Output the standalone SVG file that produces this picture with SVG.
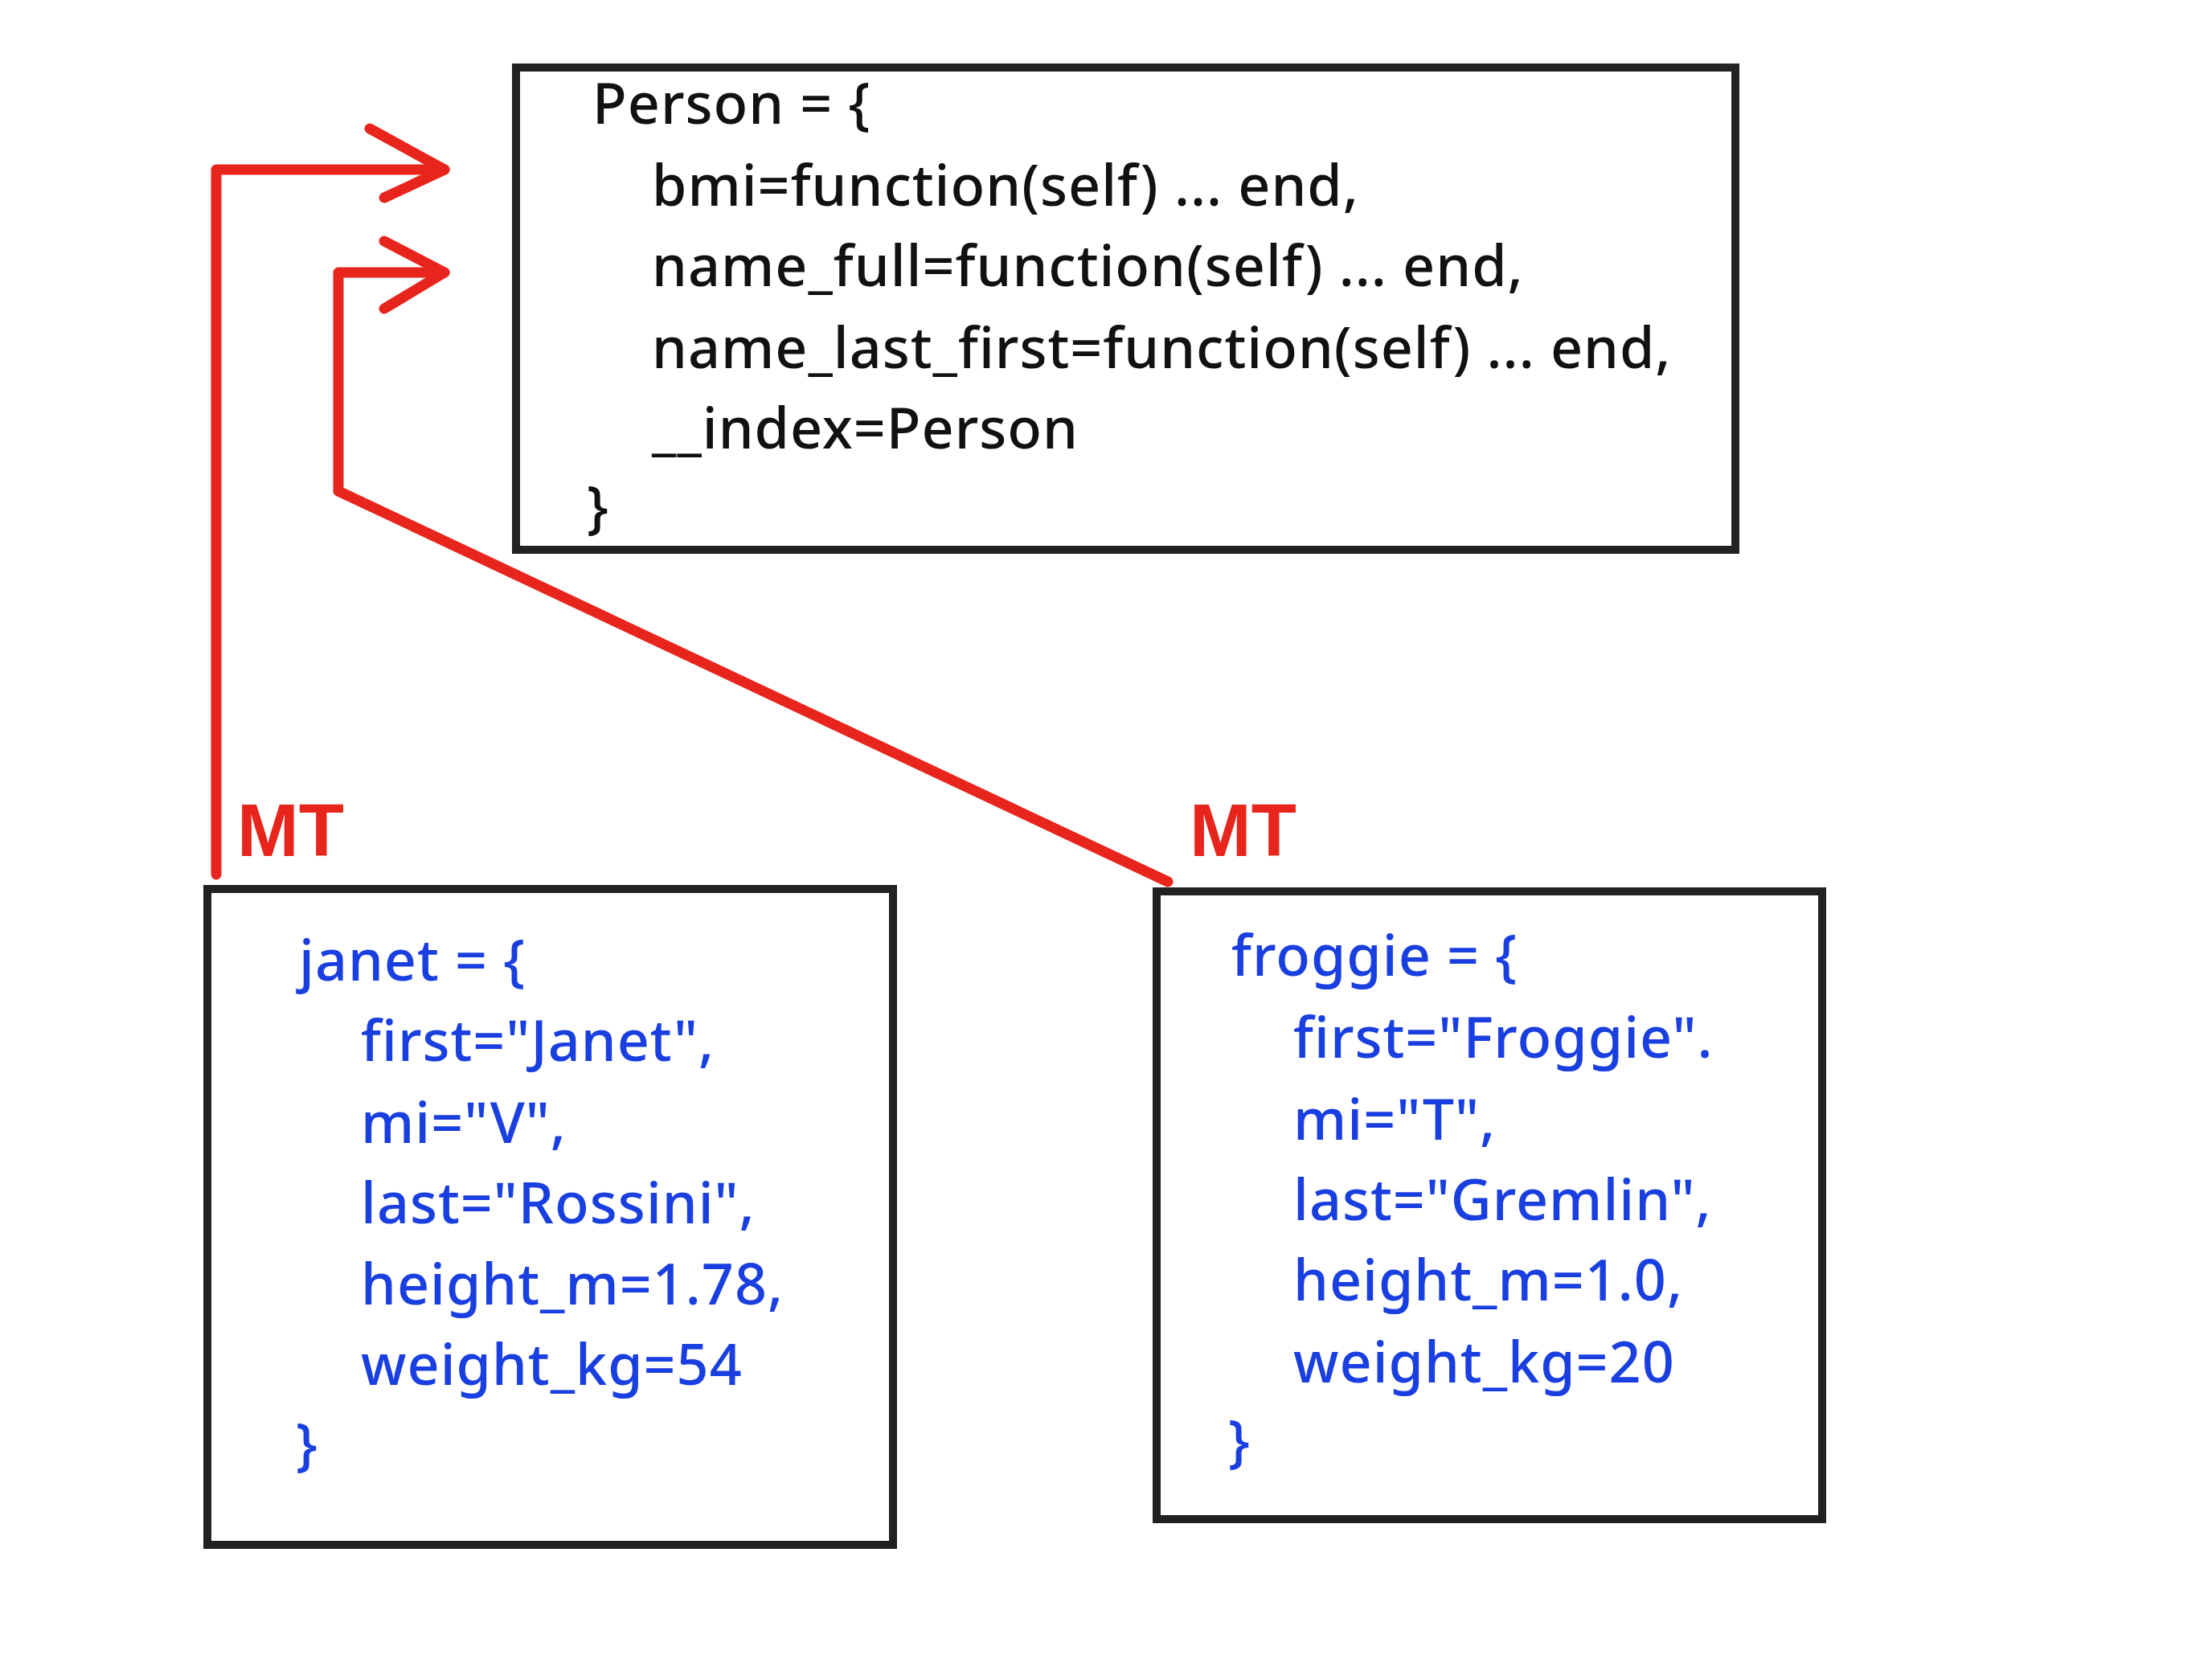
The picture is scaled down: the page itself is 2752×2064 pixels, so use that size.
<svg xmlns="http://www.w3.org/2000/svg" width="2752" height="2064" viewBox="0 0 2752 2064">
<style>
.box{fill:none;stroke:#222;stroke-width:10;stroke-linecap:round}
.t{font-family:"Noto Sans",sans-serif;font-size:70px;font-weight:500;letter-spacing:1px}
.k{fill:#111}
.b{fill:#1a3fe0}
.red{fill:none;stroke:#e8251c;stroke-width:13;stroke-linecap:round;stroke-linejoin:round}
.mt{font-family:"Liberation Sans",sans-serif;font-weight:bold;font-size:92px;fill:#e8251c}
</style>
<rect width="2752" height="2064" fill="#fff"/>
<g id="person">
<rect class="box" x="642" y="84" width="1517" height="600"/>
<text class="t k" x="737" y="154">Person = {</text>
<text class="t k" x="811" y="256">bmi=function(self) ... end,</text>
<text class="t k" x="811" y="356">name_full=function(self) ... end,</text>
<text class="t k" x="811" y="458">name_last_first=function(self) ... end,</text>
<text class="t k" x="811" y="558">__index=Person</text>
<text class="t k" x="730" y="656">}</text>
</g>
<g id="janet">
<rect class="box" x="258" y="1106" width="853" height="816"/>
<text class="t b" x="372" y="1220">janet = {</text>
<text class="t b" x="449" y="1320">first="Janet",</text>
<text class="t b" x="449" y="1422">mi="V",</text>
<text class="t b" x="449" y="1522">last="Rossini",</text>
<text class="t b" x="449" y="1623">height_m=1.78,</text>
<text class="t b" x="449" y="1723">weight_kg=54</text>
<text class="t b" x="368" y="1822">}</text>
</g>
<g id="froggie">
<rect class="box" x="1439" y="1109" width="828" height="781"/>
<text class="t b" x="1532" y="1214">froggie = {</text>
<text class="t b" x="1609" y="1316">first="Froggie".</text>
<text class="t b" x="1609" y="1418">mi="T",</text>
<text class="t b" x="1609" y="1518">last="Gremlin",</text>
<text class="t b" x="1609" y="1618">height_m=1.0,</text>
<text class="t b" x="1609" y="1720">weight_kg=20</text>
<text class="t b" x="1528" y="1818">}</text>
</g>
<g id="connectors">
<polyline class="red" points="269,1088 269,211 553,211"/>
<polyline class="red" points="460,160 553,211 478,246"/>
<polyline class="red" points="1453,1097 421,611 421,339 553,339"/>
<polyline class="red" points="478,300 553,339 478,384"/>
<text class="mt" x="295" y="1065">MT</text>
<text class="mt" x="1480" y="1065">MT</text>
</g>
</svg>
